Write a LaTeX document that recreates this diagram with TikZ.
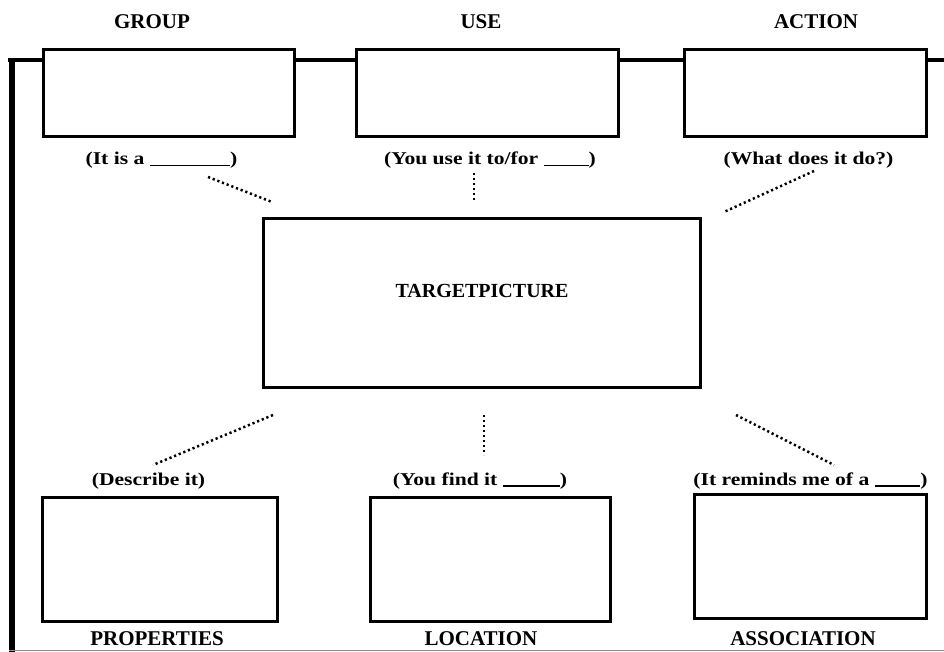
\documentclass[tikz,border=0pt]{standalone}
\usepackage{fontspec}
\setmainfont{Liberation Serif}
\newcommand{\wtx}[1]{\scalebox{1.2}[1]{#1}}
\newcommand{\blankln}[1]{\rule[-1.5pt]{#1}{1.2pt}}
\begin{document}
\begin{tikzpicture}[x=1pt,y=-1pt,
  box/.style={draw, line width=3pt, fill=white, inner sep=0pt},
  head/.style={font=\fontsize{21}{24}\selectfont\bfseries, inner sep=0pt, anchor=base},
  sub/.style={font=\fontsize{18}{21}\selectfont\bfseries, inner sep=0pt, anchor=base},
  dots/.style={line width=2.5pt, dash pattern=on 2.2pt off 2.8pt},
  frame/.style={line width=#1}]
\useasboundingbox (0,0) rectangle (944,652);
% frame
\draw[frame=4.5pt] (8,60) -- (944,60);
\draw[frame=6pt] (11.5,58) -- (11.5,652);
\draw[line width=1pt, black!45] (9,650.5) -- (944,650.5);
% top boxes
\node[box, minimum width=251pt, minimum height=87pt] (group) at (168.5,93.5) {};
\node[box, minimum width=262pt, minimum height=87pt] (use) at (487,93.5) {};
\node[box, minimum width=242pt, minimum height=87pt] (action) at (805,93.5) {};
% centre box
\node[box, minimum width=437pt, minimum height=168pt] (target) at (481.5,303) {};
\node[head, font=\fontsize{20}{24}\selectfont\bfseries] (tt) at (482,297) {TARGETPICTURE};
% bottom boxes
\node[box, minimum width=235pt, minimum height=124pt] (prop) at (159.5,559) {};
\node[box, minimum width=240pt, minimum height=124pt] (loc) at (490,559) {};
\node[box, minimum width=232pt, minimum height=124pt] (assoc) at (810,556) {};
% headings
\node[head] (hgroup) at (152,29) {GROUP};
\node[head] (huse) at (481,29) {USE};
\node[head] (haction) at (816,29) {ACTION};
\node[head] (hprop) at (157,645) {PROPERTIES};
\node[head] (hloc) at (481,645) {LOCATION};
\node[head] (hassoc) at (803,645) {ASSOCIATION};
% prompts
\node[sub] (sgroup) at (161.5,165) {\wtx{(It is a \blankln{67pt})}};
\node[sub] (suse) at (490,165) {\wtx{(You use it to/for \blankln{37.5pt})}};
\node[sub] (saction) at (808.5,165) {\wtx{(What does it do?)}};
\node[sub] (sprop) at (148.5,485) {\wtx{(Describe it)}};
\node[sub] (sloc) at (480,485) {\wtx{(You find it \blankln{47.5pt})}};
\node[sub] (sassoc) at (810.5,485) {\wtx{(It reminds me of a \blankln{38pt})}};
% dotted connector ends
\coordinate (g1) at (208,177); \coordinate (g2) at (272,202);
\coordinate (u1) at (474,173); \coordinate (u2) at (474,202);
\coordinate (a1) at (814,171); \coordinate (a2) at (724,212);
\coordinate (p1) at (273,415); \coordinate (p2) at (153,465);
\coordinate (l1) at (484,415); \coordinate (l2) at (484,455);
\coordinate (s1) at (736,415); \coordinate (s2) at (834,465);
\draw[dots] (g1) -- (g2);
\draw[dots] (u1) -- (u2);
\draw[dots] (a1) -- (a2);
\draw[dots] (p1) -- (p2);
\draw[dots] (l1) -- (l2);
\draw[dots] (s1) -- (s2);
\end{tikzpicture}
\end{document}
